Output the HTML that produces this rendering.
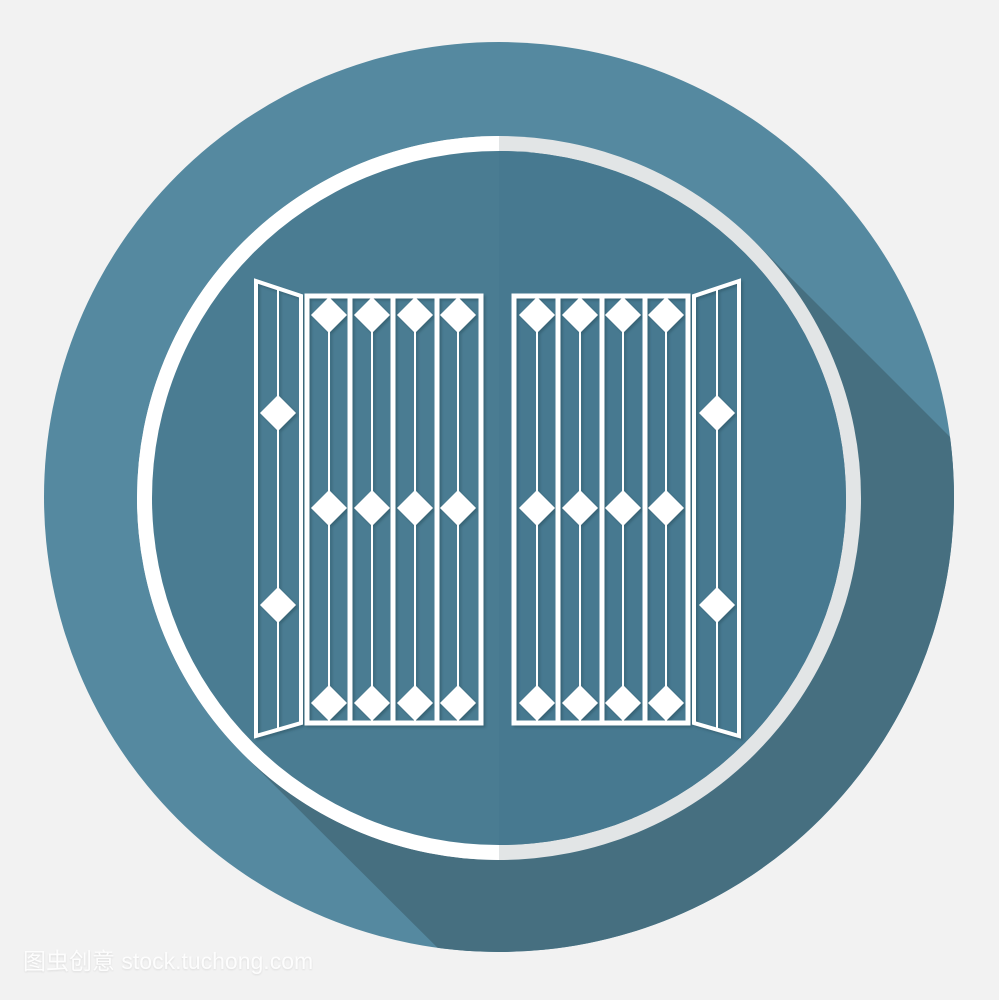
<!DOCTYPE html>
<html><head><meta charset="utf-8"><style>
html,body{margin:0;padding:0;background:#f2f2f2;width:999px;height:1000px;overflow:hidden;position:relative;}
svg{display:block;position:absolute;left:0;top:0;}
.wm{position:absolute;left:23px;top:947px;font:23px "Liberation Sans","Noto Sans CJK SC",sans-serif;line-height:28px;color:#fff;opacity:.85;text-shadow:0 1px 2px rgba(0,0,0,.12);white-space:nowrap;}
</style></head><body>
<svg width="999" height="1000" viewBox="0 0 999 1000">
<defs>
<clipPath id="big"><circle cx="499" cy="497" r="455"/></clipPath>
<filter id="ds" x="-10%" y="-10%" width="130%" height="130%"><feDropShadow dx="2" dy="2" stdDeviation="1.2" flood-color="#2d5566" flood-opacity="0.6"/></filter>
</defs>
<rect width="999" height="1000" fill="#f2f2f2"/>
<circle cx="499" cy="497" r="455" fill="#5589a0"/>
<polygon clip-path="url(#big)" points="243,754 755,242 999,486 999,999 489,999" fill="#466f80"/>
<circle cx="499" cy="498" r="362" fill="#e2e5e6"/>
<path d="M499,136 A362,362 0 0 0 499,860 Z" fill="#ffffff"/>
<circle cx="499" cy="498" r="347" fill="#4a7c92"/>
<path d="M499,151 A347,347 0 0 1 499,845 Z" fill="#477990"/>
<g id="gates" fill="#fff" stroke="#fff" filter="url(#ds)"></g>
</svg>
<div class="wm">图虫创意 stock.tuchong.com</div>
<script>
const ns='http://www.w3.org/2000/svg';
const g=document.getElementById('gates');
function add(tag,attrs,name){const e=document.createElementNS(ns,tag);for(const k in attrs)e.setAttribute(k,attrs[k]);


g.appendChild(e);return e;}
function dia(cx,cy,h,name){return add('polygon',{points:`${cx},${cy-h} ${cx+h},${cy} ${cx},${cy+h} ${cx-h},${cy}`,stroke:'none'},name);}
function gate(m,side){
  const X=x=>m?995-x:x;
  add('polygon',{points:`${X(256)},${281} ${X(301)},${296} ${X(301)},${723} ${X(256)},${736}`,fill:'none','stroke-width':4},side+'-side-panel');
  add('line',{x1:X(278),y1:289,x2:X(278),y2:729,'stroke-width':2},side+'-side-bar');
  dia(X(278),413,18,side+'-side-diamond-top');
  dia(X(278),605,18,side+'-side-diamond-bottom');
  const l=Math.min(X(307),X(481)),r=Math.max(X(307),X(481));
  add('rect',{x:l,y:296,width:r-l,height:427,fill:'none','stroke-width':5},side+'-main-frame');
  [350,393,437].forEach((x,i)=>add('line',{x1:X(x),y1:296,x2:X(x),y2:723,'stroke-width':5},side+'-thick-bar-'+i));
  [329,372,415,458].forEach((x,i)=>{
    add('line',{x1:X(x),y1:296,x2:X(x),y2:723,'stroke-width':2},side+'-thin-bar-'+i);
    [315,508,703].forEach((y,j)=>dia(X(x),y,18,side+'-diamond-'+i+'-'+j));
  });
}
gate(false,'left');gate(true,'right');
</script>
</body></html>
